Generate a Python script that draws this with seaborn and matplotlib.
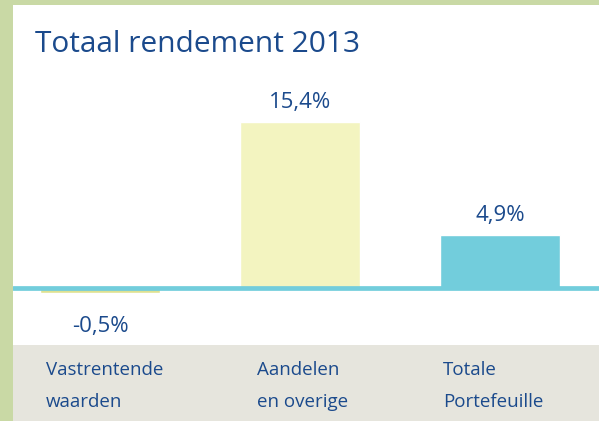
import matplotlib
matplotlib.use("Agg")
import matplotlib.pyplot as plt
from matplotlib.patches import Rectangle
import seaborn as sns

# Data
categories = ["Vastrentende\nwaarden", "Aandelen\nen overige", "Totale\nPortefeuille"]
values = [-0.5, 15.4, 4.9]
value_labels = ["-0,5%", "15,4%", "4,9%"]
bar_colors = ["#dfe291", "#f3f4c0", "#72cddc"]

title_color = "#1b4a8c"
green = "#c9d9a5"
band = "#e6e5dd"
cyan = "#72cddc"

sns.set_theme(style="white")
plt.rcParams["font.family"] = ["Open Sans", "DejaVu Sans"]

W, H = 599, 421
fig = plt.figure(figsize=(W / 100, H / 100), dpi=100)
fig.patch.set_facecolor(green)

# white panel and grey label band
fig.patches.append(Rectangle((13 / W, 0), 1, 1 - 5 / H, transform=fig.transFigure,
                             facecolor="white", edgecolor="none", zorder=-2))
fig.patches.append(Rectangle((13 / W, 0), 1, 76 / H, transform=fig.transFigure,
                             facecolor=band, edgecolor="none", zorder=-1))

ax = fig.add_axes([13 / W, 76 / H, 586 / W, 340 / H])
ax.set_zorder(2)
ax.patch.set_alpha(0)

sns.barplot(x=list(range(len(values))), y=values, hue=list(range(len(values))),
            palette=bar_colors, legend=False, width=0.6, saturation=1,
            ax=ax, native_scale=True)

ax.axhline(0, color=cyan, lw=3.4, zorder=5)
ax.set_xlim(-0.435, 2.495)
ax.set_ylim(-5.29, 26.25)
ax.axis("off")

for i, (v, lab) in enumerate(zip(values, value_labels)):
    off = 6.5 if v >= 0 else -16.5
    ax.annotate(lab, (i, v), xytext=(0, off), textcoords="offset points",
                ha="center", va="bottom" if v >= 0 else "top",
                fontsize=16, color=title_color)

# category labels in the grey band
label_x = [46, 257, 443]
for x, c in zip(label_x, categories):
    fig.text(x / W, (H - 361) / H, c, ha="left", va="top", fontsize=13.5,
             color=title_color, linespacing=2.0)

fig.text(35 / W, 1 - 44 / H, "Totaal rendement 2013", ha="left", va="center",
         fontsize=21.5, color=title_color)

fig.savefig("out.png", dpi=100, facecolor=fig.get_facecolor())
